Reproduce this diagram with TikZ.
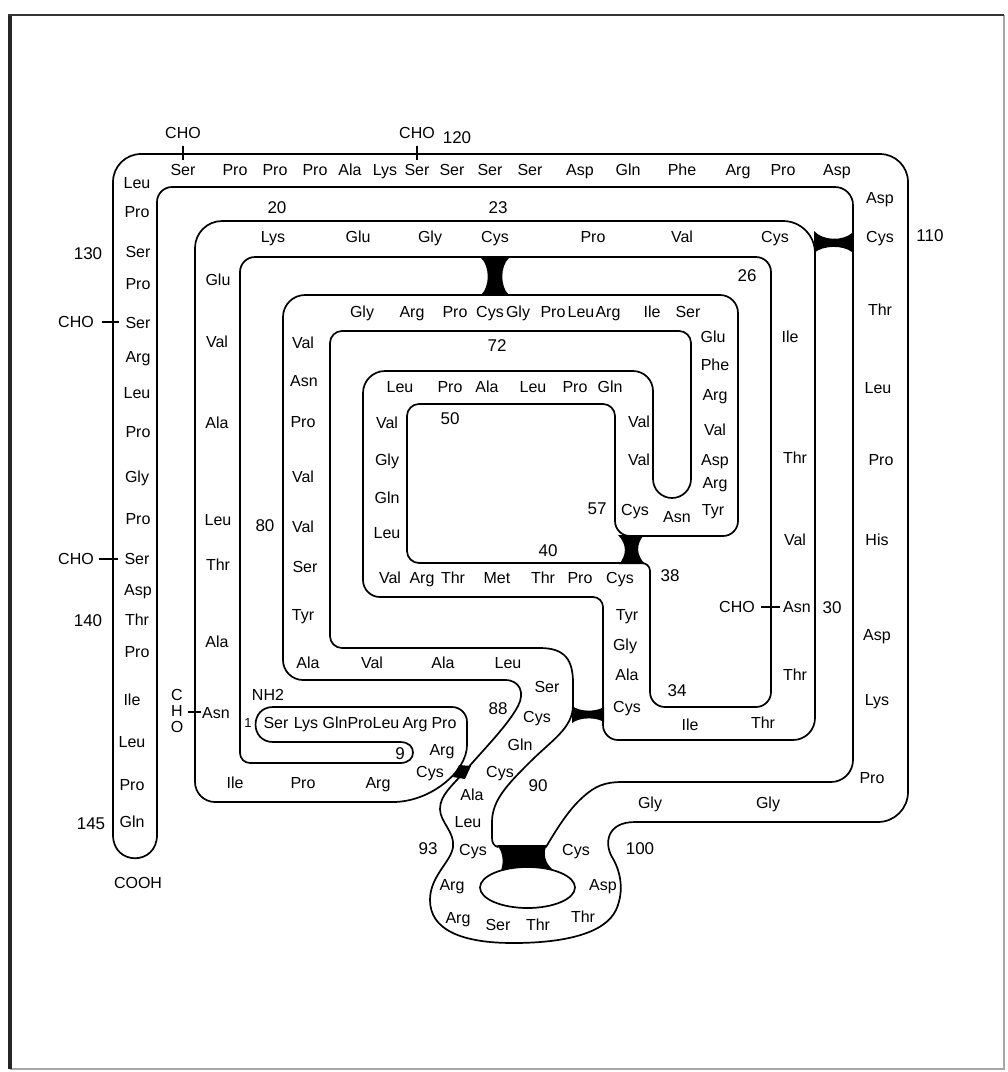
\documentclass[tikz,border=0pt]{standalone}
\usepackage{fontspec}
\setmainfont{Liberation Sans}
\begin{document}
\begin{tikzpicture}[x=1pt,y=-1pt,
  band/.style={line width=1.7pt, line join=round, line cap=round},
  res/.style={font=\fontsize{16}{16}\selectfont, inner sep=0pt, text height=11.5pt, text depth=0pt},
  num/.style={font=\fontsize{17}{17}\selectfont, inner sep=0pt, text height=12pt, text depth=0pt},
  small/.style={font=\fontsize{13}{13}\selectfont, inner sep=0pt, text height=9.5pt, text depth=0pt},
  tick/.style={line width=1.3pt},
  bridge/.style={fill=black}]
\useasboundingbox (0,0) rectangle (1008,1072);
% frame
\draw[line width=1.2pt, black!35] (1004,15) -- (1004,1069) -- (10,1069);
\draw[line width=3.5pt, black!85] (10,1069) -- (10,15);
\draw[line width=2.6pt, black!80] (8.25,15) -- (1004,15);

% ---- side P of the ribbon
\draw[band] (273,742) .. controls (249.7,742) and (249.7,707) .. (273,707)
  [rounded corners=15pt] -- (467,707) -- (467,730);
\draw[band] (467,730) -- (467,745) .. controls (467,772) and (430,802) .. (393,802) -- (300,802);
\draw[band] (300,802)
  [rounded corners=20pt] -- (195,802)
  [rounded corners=27pt] -- (195,221)
  [rounded corners=32pt] -- (815,221)
  [rounded corners=22pt] -- (815,740)
  [rounded corners=15pt] -- (603,740)
  [rounded corners=10pt] -- (603,597)
  [rounded corners=17pt] -- (363,597)
  [rounded corners=22pt] -- (363,371)
  [rounded corners=20pt] -- (653,371)
  [rounded corners=19pt] -- (653,498) -- (691,498)
  [rounded corners=12pt] -- (691,331) -- (330,331) -- (330,648) -- (450,648);
\draw[band] (450,648) -- (540,648)
  .. controls (565,648) and (573,660) .. (573,683) -- (573,705)
  .. controls (573,728) and (552,740) .. (530,762)
  .. controls (508,784) and (492,800) .. (492,822) -- (492,838)
  .. controls (492,843) and (494,846) .. (498,847);
\draw[band] (546,847) .. controls (555,832) and (568,810) .. (583,797)
  .. controls (595,786) and (605,782) .. (622,782) -- (700,782);
\draw[band] (700,782)
  [rounded corners=22pt] -- (853,782)
  [rounded corners=18pt] -- (853,187)
  [rounded corners=15pt] -- (157,187) -- (157,800);
\draw[band] (157,800) -- (157,835) .. controls (157,866) and (113,866) .. (113,835) -- (113,800);

% ---- side Q of the ribbon
\draw[band] (273,742) -- (400,742)
  .. controls (409,742) and (413,747) .. (413,752.5)
  .. controls (413,758) and (409,763) .. (400,763) -- (330,763);
\draw[band] (330,763)
  [rounded corners=10pt] -- (240,763)
  [rounded corners=15pt] -- (240,257) -- (771,257) -- (771,707) -- (650,707)
  [rounded corners=8pt] -- (650,563)
  [rounded corners=12pt] -- (407,563) -- (407,404) -- (615,404)
  [rounded corners=15pt] -- (615,536) -- (738,536)
  [rounded corners=18pt] -- (738,295)
  [rounded corners=22pt] -- (283,295)
  [rounded corners=20pt] -- (283,680) -- (400,680);
\draw[band] (400,680) -- (505,680)
  .. controls (520,680) and (525,693) .. (518,706)
  .. controls (508,725) and (485,748) .. (466,770)
  .. controls (452,786) and (440,795) .. (440,809)
  .. controls (440,822) and (455,832) .. (453,847)
  .. controls (451,862) and (430,876) .. (430,900)
  .. controls (430,930) and (462,943) .. (513,943)
  .. controls (566,943) and (605,933) .. (616,910)
  .. controls (625,890) and (620,870) .. (612,857)
  .. controls (604,843) and (607,822) .. (635,822) -- (720,822);
\draw[band] (720,822)
  [rounded corners=30pt] -- (908,822)
  [rounded corners=28pt] -- (908,154) -- (113,154) -- (113,800);

% inner hole of the 93-100 loop
\draw[band] (527.5,887.5) ellipse [x radius=47.5pt, y radius=20.5pt];

% ---- disulfide bridges
\fill[bridge] (481,258) .. controls (490,266) and (490,287) .. (481,295) -- (509,295) .. controls (500,287) and (500,266) .. (509,258) -- cycle;
\fill[bridge] (814,231) .. controls (823,241) and (843,241) .. (852,233) -- (852,252) .. controls (843,245) and (823,245) .. (814,253) -- cycle;
\fill[bridge] (618,535) .. controls (627,544) and (627,555) .. (619,564) -- (645,564) .. controls (636,555) and (636,544) .. (644,535) -- cycle;
\fill[bridge] (572,706) .. controls (580,712) and (596,712) .. (604,707) -- (604,722) .. controls (596,717) and (580,717) .. (572,723) -- cycle;
\fill[bridge] (453,777) -- (459,765) -- (471,766) -- (465,779) -- cycle;
\fill[bridge] (497,845) .. controls (503,852) and (504,862) .. (501,870.5) .. controls (515,866) and (540,866) .. (553,870) .. controls (544,862) and (543,852) .. (547,845) -- cycle;

% ---- residues
\foreach \n/\t/\x/\y in {
1/Ser/276/723, 2/Lys/306/723, 3/Gln/335/723, 4/Pro/360/723, 5/Leu/386/723, 6/Arg/415/723, 7/Pro/444/723,
8/Arg/442/750, 9/Cys/430/772, 10/Arg/378/783, 11/Pro/303/783, 12/Ile/235/783,
13/Asn/216/713, 14/Ala/217/642, 15/Thr/218/565, 16/Leu/218/520, 17/Ala/217/423, 18/Val/217/342, 19/Glu/218/280,
20/Lys/273/237, 21/Glu/358/237, 22/Gly/430/237, 23/Cys/495/237, 24/Pro/593/237, 25/Val/682/237, 26/Cys/775/237,
27/Ile/790/337, 28/Thr/795/458, 29/Val/795/540, 30/Asn/797/607, 31/Thr/795/675,
32/Thr/763/723, 33/Ile/690/725, 34/Cys/627/707, 35/Ala/627/675, 36/Gly/625/645, 37/Tyr/627/615,
38/Cys/620/578, 39/Pro/580/578, 40/Thr/543/578, 41/Met/497/578, 42/Thr/453/578, 43/Arg/422/578, 44/Val/390/578,
45/Leu/387/533, 46/Gln/387/498, 47/Gly/387/460, 48/Val/387/423,
49/Leu/400/387, 50/Pro/450/387, 51/Ala/487/387, 52/Leu/533/387, 53/Pro/575/387, 54/Gln/610/387,
55/Val/639/422, 56/Val/639/460, 57/Cys/635/510, 58/Asn/677/517, 59/Tyr/713/510,
60/Arg/715/483, 61/Asp/715/460, 62/Val/715/430, 63/Arg/715/395, 64/Phe/715/365, 65/Glu/713/337,
66/Ser/688/312, 67/Ile/652/312, 68/Arg/608/312, 69/Leu/581/312, 70/Pro/553/312, 71/Gly/518/312, 72/Cys/490/312, 73/Pro/455/312, 74/Arg/412/312, 75/Gly/362/312,
76/Val/303/343, 77/Asn/304/381, 78/Pro/303/422, 79/Val/303/477, 80/Val/303/527, 81/Ser/305/567, 82/Tyr/303/615,
83/Ala/308/663, 84/Val/372/663, 85/Ala/443/663, 86/Leu/508/663,
87/Ser/547/687, 88/Cys/537/717, 89/Gln/520/745, 90/Cys/500/772, 91/Ala/472/795, 92/Leu/468/822, 93/Cys/473/850,
94/Arg/452/885, 95/Arg/458/918, 96/Ser/498/925, 97/Thr/538/925, 98/Thr/583/917, 99/Asp/603/885, 100/Cys/576/850,
101/Gly/650/803, 102/Gly/768/803, 103/Pro/872/778,
104/Lys/877/700, 105/Asp/877/635, 106/His/877/540, 107/Pro/881/460, 108/Leu/878/388, 109/Thr/880/310, 110/Cys/880/237, 111/Asp/880/198,
112/Asp/837/170, 113/Pro/783/170, 114/Arg/738/170, 115/Phe/682/170, 116/Gln/628/170, 117/Asp/580/170, 118/Ser/530/170, 119/Ser/490/170, 120/Ser/452/170, 121/Ser/417/170, 122/Lys/385/170, 123/Ala/350/170, 124/Pro/315/170, 125/Pro/275/170, 126/Pro/235/170, 127/Ser/183/170,
128/Leu/137/183, 129/Pro/137/212, 130/Ser/138/252, 131/Pro/138/284, 132/Ser/138/323, 133/Arg/138/357, 134/Leu/137/393, 135/Pro/138/432,
136/Gly/137/477, 137/Pro/138/519, 138/Ser/137/559, 139/Asp/138/590, 140/Thr/137/620, 141/Pro/137/652, 142/Ile/132/700, 143/Leu/132/742, 144/Pro/132/785, 145/Gln/132/822}
  \node[res] (r\n) at (\x,\y) {\t};

% ---- numbers
\foreach \n/\x/\y in {20/277/207, 23/498/207, 26/747/275, 30/832/607, 34/677/690, 38/670/575, 40/548/550,
  50/450/418, 57/597/508, 72/497/345, 80/265/525, 88/498/708, 90/538/785, 93/428/848, 100/640/848,
  110/930/235, 120/457/137, 130/88/253, 140/88/620, 145/91/823}
  \node[num] (n\n) at (\x,\y) {\n};
\node[small] (n1) at (248,723) {1};
\node[num] (n9) at (400,753) {9};
\node[res] (nh2) at (268,695) {NH2};
\node[res] (cooh) at (138,883) {COOH};

% ---- carbohydrate attachments
\node[res] (cho127) at (183,133) {CHO};
\node[res] (cho121) at (417,133) {CHO};
\node[res] (cho132) at (76,322) {CHO};
\node[res] (cho138) at (76,559) {CHO};
\node[res] (cho30) at (737,607) {CHO};
\node[res] (choC) at (177,695) {C};
\node[res] (choH) at (177,711) {H};
\node[res] (choO) at (177,727) {O};
\coordinate (t127a) at (183,146); \coordinate (t127b) at (183,160);
\coordinate (t121a) at (417,146); \coordinate (t121b) at (417,160);
\coordinate (t132a) at (102,322); \coordinate (t132b) at (119,322);
\coordinate (t138a) at (99,559);  \coordinate (t138b) at (118,559);
\coordinate (t30a) at (761,607);  \coordinate (t30b) at (780,607);
\coordinate (t13a) at (188,712);  \coordinate (t13b) at (201,712);
\draw[tick] (t127a) -- (t127b);
\draw[tick] (t121a) -- (t121b);
\draw[tick] (t132a) -- (t132b);
\draw[tick] (t138a) -- (t138b);
\draw[tick] (t30a) -- (t30b);
\draw[tick] (t13a) -- (t13b);
\end{tikzpicture}
\end{document}
